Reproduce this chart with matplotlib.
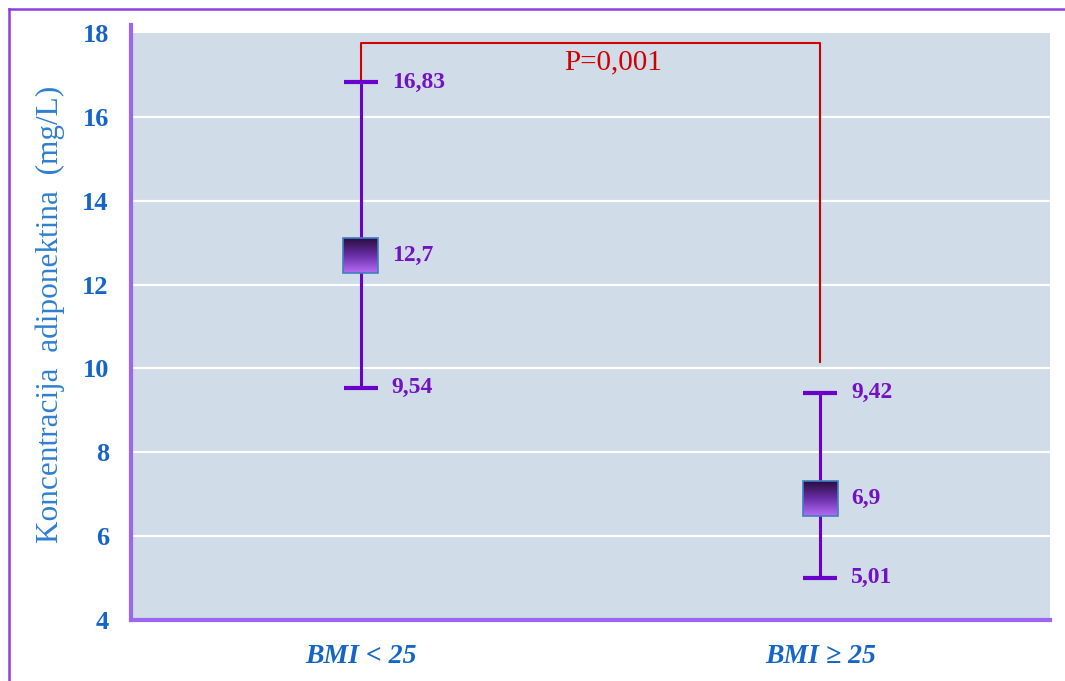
import numpy as np
import matplotlib
matplotlib.use("Agg")
import matplotlib.pyplot as plt
from matplotlib.patches import Rectangle
from matplotlib.colors import LinearSegmentedColormap

# ---- data ----
categories = ["BMI < 25", "BMI \u2265 25"]
means = [12.7, 6.9]
upper = [16.83, 9.42]
lower = [9.54, 5.01]
mean_labels = ["12,7", "6,9"]
upper_labels = ["16,83", "9,42"]
lower_labels = ["9,54", "5,01"]
p_text = "P=0,001"
y_ticks = [4, 6, 8, 10, 12, 14, 16, 18]
ylabel = "Koncentracija  adiponektina  (mg/L)"

# ---- style ----
BG = "#d0dce7"
PURPLE = "#6a00cc"
LABEL_PURPLE = "#7311c4"
BLUE = "#1565c8"
SPINE = "#9b66f2"
RED = "#d10000"
SERIF = ["Liberation Serif", "DejaVu Serif"]

fig = plt.figure(figsize=(10.65, 6.81), dpi=100)
ax = fig.add_axes([131/1065, 1-620/681, (1050-131)/1065, (620-33)/681])
ax.set_facecolor(BG)
ax.set_xlim(0, 2)
ax.set_ylim(4, 18)

xpos = np.arange(len(categories)) + 0.5

# grid
for yv in y_ticks[1:-1]:
    ax.axhline(yv, color="white", lw=1.6, zorder=1)

# error bars
for x, m, lo, hi in zip(xpos, means, lower, upper):
    ax.errorbar([x], [m], yerr=[[m - lo], [hi - m]], fmt="none", ecolor=PURPLE,
                elinewidth=2.2, capsize=12.5, capthick=3, zorder=3)

# gradient squares
cmap = LinearSegmentedColormap.from_list("g", ["#2a0d40", "#6a2fa8", "#b56cf5"])
grad = np.linspace(0, 1, 100).reshape(-1, 1)
hw = 35 / 919 * 2 / 2
hh = 35 / (587 / 14) / 2
for x, m in zip(xpos, means):
    ax.imshow(grad, extent=[x - hw, x + hw, m - hh, m + hh], cmap=cmap,
              aspect="auto", origin="upper", zorder=4)
    ax.add_patch(Rectangle((x - hw, m - hh), 2 * hw, 2 * hh, fill=False,
                           edgecolor="#3f7fc0", lw=1.2, zorder=5))

# value labels
for x, m, lo, hi, ml, ll, ul in zip(xpos, means, lower, upper,
                                    mean_labels, lower_labels, upper_labels):
    for yv, t in ((hi, ul), (m, ml), (lo, ll)):
        ax.annotate(t, (x, yv), xytext=(31, 0), textcoords="offset pixels",
                    ha="left", va="center", fontsize=17, fontweight="bold",
                    color=LABEL_PURPLE, family=SERIF, zorder=6)

# significance bracket
bracket_top = 17.76
bracket_right_bottom = 10.15
ax.plot([xpos[0], xpos[0], xpos[1], xpos[1]],
        [upper[0], bracket_top, bracket_top, bracket_right_bottom],
        color=RED, lw=1.5, zorder=2)
ax.annotate(p_text, ((xpos[0] + xpos[1]) / 2, 17.3), xytext=(23, 0),
            textcoords="offset pixels", ha="center", va="center",
            fontsize=21, color=RED, family=SERIF, zorder=6)

# axes styling
ax.set_xticks(xpos)
ax.set_xticklabels(categories, fontsize=20, fontweight="bold", style="italic",
                   color=BLUE, family=SERIF)
ax.set_yticks(y_ticks)
ax.set_yticklabels([str(v) for v in y_ticks], fontsize=19, fontweight="bold",
                   color=BLUE, family=SERIF)
ax.tick_params(axis="both", length=0)
ax.tick_params(axis="y", pad=16)
ax.tick_params(axis="x", pad=17)
ax.set_ylabel(ylabel, fontsize=22.5, color="#2f7fd0", family=SERIF)
ax.yaxis.set_label_coords(-0.072, 0.52)

for s in ("top", "right"):
    ax.spines[s].set_visible(False)
for s in ("left", "bottom"):
    ax.spines[s].set_color(SPINE)
    ax.spines[s].set_linewidth(3)
ax.spines["left"].set_bounds(4, 18.2)

# figure border
fig.add_artist(plt.Line2D([9/1065, 9/1065], [0, 1 - 9/681], color="#8a3ee0",
                          lw=1.8, transform=fig.transFigure))
fig.add_artist(plt.Line2D([9/1065, 1], [1 - 9/681, 1 - 9/681], color="#8a3ee0",
                          lw=1.8, transform=fig.transFigure))

fig.savefig("out.png", dpi=100)
